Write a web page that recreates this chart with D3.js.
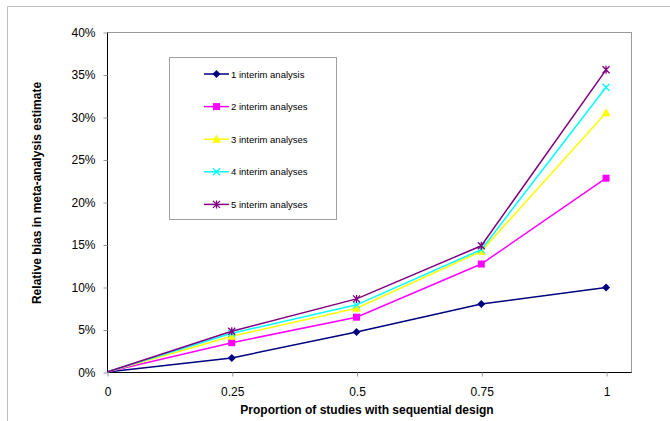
<!DOCTYPE html>
<html>
<head>
<meta charset="utf-8">
<script src="https://cdn.jsdelivr.net/npm/d3@7"></script>
<style>
  body { margin: 0; background: #fff; }
  svg { display: block; font-family: Arial, "Liberation Sans", sans-serif; }
</style>
</head>
<body>
<div id="chart"></div>
<script>
// data
const proportions = [0, 0.25, 0.5, 0.75, 1];
const xTicks = [0, 0.25, 0.5, 0.75, 1];
const yTicks = [0, 0.05, 0.1, 0.15, 0.2, 0.25, 0.3, 0.35, 0.4];

const seriesNames = [
  '1 interim analysis',
  '2 interim analyses',
  '3 interim analyses',
  '4 interim analyses',
  '5 interim analyses'
];
const bias1 = [0, 0.0165, 0.047, 0.080, 0.0995];
const bias2 = [0, 0.0345, 0.0645, 0.127, 0.228];
const bias3 = [0, 0.042, 0.075, 0.142, 0.305];
const bias4 = [0, 0.0455, 0.079, 0.144, 0.335];
const bias5 = [0, 0.048, 0.086, 0.1485, 0.3555];

const seriesColors = ['#000080', '#ff00ff', '#ffff00', '#00ffff', '#800080'];
const seriesMarkers = ['diamond', 'square', 'triangle', 'x', 'star'];

const width = 670, height = 421;
const margin = { top: 32, right: 39, bottom: 49, left: 107 };

const svg = d3.select('#chart').append('svg')
  .attr('width', width)
  .attr('height', height);

// outer chart frame (cropped on the right and bottom)
svg.append('path')
  .attr('d', `M7.5,${height + 5}V6.5H${width + 5}`)
  .attr('fill', 'none')
  .attr('stroke', '#bdbdbd');

const x = d3.scaleLinear()
  .domain([0, 1.05])
  .range([margin.left, width - margin.right]);

const y = d3.scaleLinear()
  .domain([0, 0.4])
  .range([height - margin.bottom, margin.top]);

// plot area border
svg.append('rect')
  .attr('x', margin.left + 0.5)
  .attr('y', margin.top + 0.5)
  .attr('width', x(1.05) - margin.left)
  .attr('height', y(0) - margin.top)
  .attr('fill', 'none')
  .attr('stroke', '#9a9a9a');

// axes
const xAxis = d3.axisBottom(x)
  .tickValues(xTicks)
  .tickFormat(d => String(d))
  .tickSize(4)
  .tickPadding(11);

const yAxis = d3.axisLeft(y)
  .tickValues(yTicks)
  .tickFormat(d3.format('.0%'))
  .tickSize(4)
  .tickPadding(8);

const gx = svg.append('g')
  .attr('transform', `translate(0.5,${y(0) + 0.5})`)
  .call(xAxis);
gx.select('.domain').attr('d', `M${margin.left},0H${x(1.05)}`).attr('stroke', '#000');
gx.selectAll('.tick line').attr('stroke', '#9a9a9a');

const gy = svg.append('g')
  .attr('transform', `translate(${margin.left + 0.5},0.5)`)
  .call(yAxis);
gy.select('.domain').attr('d', `M0,${y(0)}V${margin.top}`).attr('stroke', '#000');
gy.selectAll('.tick line').attr('stroke', '#9a9a9a');

svg.selectAll('.tick text')
  .attr('font-size', 12)
  .attr('font-family', 'Arial, "Liberation Sans", sans-serif')
  .attr('fill', '#000');

// axis titles
svg.append('text')
  .attr('x', (x(0) + x(1.05)) / 2 - 2)
  .attr('y', 414)
  .attr('text-anchor', 'middle')
  .attr('font-size', 12)
  .attr('font-weight', 'bold')
  .text('Proportion of studies with sequential design');

svg.append('text')
  .attr('transform', `translate(41,193) rotate(-90)`)
  .attr('text-anchor', 'middle')
  .attr('font-size', 12)
  .attr('font-weight', 'bold')
  .text('Relative bias in meta-analysis estimate');

// marker drawing
function drawMarker(g, type, color, cx, cy) {
  if (type === 'diamond') {
    g.append('path')
      .attr('d', `M${cx},${cy - 4}L${cx + 4},${cy}L${cx},${cy + 4}L${cx - 4},${cy}Z`)
      .attr('fill', color);
  } else if (type === 'square') {
    g.append('rect')
      .attr('x', cx - 3.5).attr('y', cy - 3.5)
      .attr('width', 7).attr('height', 7)
      .attr('fill', color);
  } else if (type === 'triangle') {
    g.append('path')
      .attr('d', `M${cx},${cy - 4.5}L${cx + 4.5},${cy + 3.5}L${cx - 4.5},${cy + 3.5}Z`)
      .attr('fill', color);
  } else if (type === 'x') {
    g.append('path')
      .attr('d', `M${cx - 3.5},${cy - 3.5}L${cx + 3.5},${cy + 3.5}M${cx + 3.5},${cy - 3.5}L${cx - 3.5},${cy + 3.5}`)
      .attr('stroke', color).attr('stroke-width', 1.3);
  } else {
    g.append('path')
      .attr('d', `M${cx - 3.5},${cy - 3.5}L${cx + 3.5},${cy + 3.5}M${cx + 3.5},${cy - 3.5}L${cx - 3.5},${cy + 3.5}M${cx},${cy - 4}V${cy + 4}`)
      .attr('stroke', color).attr('stroke-width', 1.3);
  }
}

const allSeries = [bias1, bias2, bias3, bias4, bias5];

const line = d3.line()
  .x((d, i) => x(proportions[i]))
  .y(d => y(d));

const plot = svg.append('g').attr('class', 'plot-area');

allSeries.forEach((values, si) => {
  const g = plot.append('g');
  g.append('path')
    .datum(values)
    .attr('d', line)
    .attr('fill', 'none')
    .attr('stroke', seriesColors[si])
    .attr('stroke-width', 1.5);
  values.forEach((v, i) => {
    if (i === 0) return;
    drawMarker(g, seriesMarkers[si], seriesColors[si], x(proportions[i]), y(v));
  });
});

// legend
const legend = svg.append('g').attr('class', 'legend');
legend.append('rect')
  .attr('x', 169.5).attr('y', 57.5)
  .attr('width', 167).attr('height', 162)
  .attr('fill', '#fff')
  .attr('stroke', '#a0a0a0');

seriesNames.forEach((name, i) => {
  const ly = 74 + i * 32.6;
  const g = legend.append('g');
  g.append('line')
    .attr('x1', 204).attr('x2', 229)
    .attr('y1', ly).attr('y2', ly)
    .attr('stroke', seriesColors[i])
    .attr('stroke-width', 1.5);
  drawMarker(g, seriesMarkers[i], seriesColors[i], 216.5, ly);
  g.append('text')
    .attr('x', 231)
    .attr('y', ly + 3.5)
    .attr('font-size', 9.5)
    .attr('fill', '#000')
    .text(name);
});
</script>
</body>
</html>
